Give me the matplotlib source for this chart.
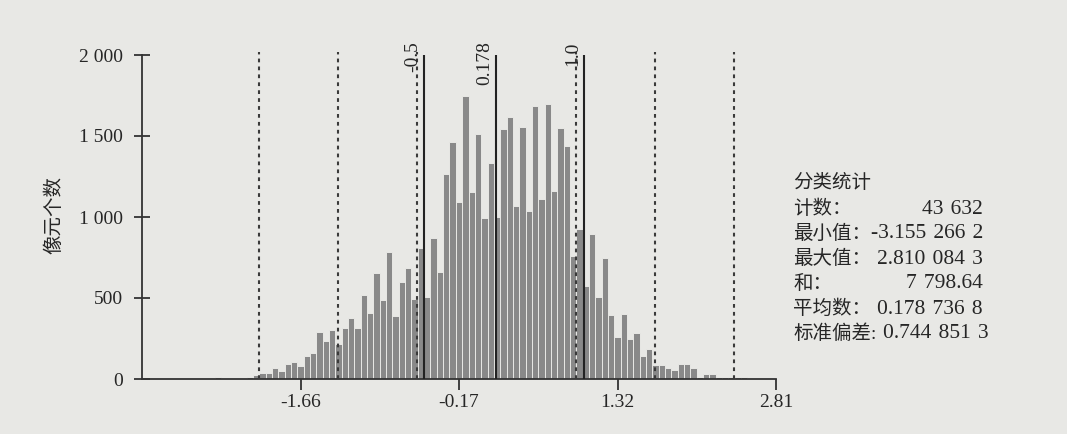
import matplotlib
matplotlib.use('Agg')
import matplotlib.pyplot as plt
import numpy as np

# histogram counts, 100 bins between min and max
bin_counts = [0, 0, 0, 0, 0, 0, 0, 0, 0, 8,
              2, 10, 3, 8, 3, 4, 15, 25, 38, 40,
              70, 50, 95, 105, 82, 142, 160, 289, 237, 300,
              215, 315, 378, 315, 517, 410, 656, 486, 783, 390,
              601, 687, 492, 810, 507, 872, 660, 1268, 1460, 1095,
              1748, 1157, 1514, 991, 1335, 1003, 1545, 1618, 1065, 1557,
              1034, 1686, 1114, 1698, 1163, 1551, 1440, 757, 929, 572,
              892, 505, 745, 394, 257, 404, 246, 287, 145, 185,
              85, 85, 70, 55, 95, 92, 70, 12, 30, 28,
              10, 12, 12, 15, 12, 3, 2, 0, 0, 0]

# classification statistics
stat_count = 43632
stat_min = -3.1552662
stat_max = 2.8100843
stat_sum = 7798.64
stat_mean = 0.1787368
stat_std = 0.7448513

break_values = [-0.5, 0.178, 1.0]
break_labels = ['-0.5', '0.178', '1.0']
std_multiples = [-3, -2, -1, 1, 2, 3]

sp = '\u2004'  # digit-group space, a bit wider than a normal one
stat_names = ['计数：', '最小值：', '最大值：', '和：', '平均数：']
stat_texts = ['43' + sp + '632', '-3.155' + sp + '266' + sp + '2', '2.810' + sp + '084' + sp + '3',
              '7' + sp + '798.64', '0.178' + sp + '736' + sp + '8']
std_name = '标准偏差:'
std_text = '0.744' + sp + '851' + sp + '3'

yticks = [0, 500, 1000, 1500, 2000]
ytick_labels = ['0', '500', '1 000', '1 500', '2 000']

plt.rcParams['font.family'] = ['Liberation Serif', 'Noto Sans CJK SC']
bg = '#e8e8e5'
bar_col = '#898989'
ink = '#262626'

fig = plt.figure(figsize=(10.67, 4.34), dpi=100, facecolor=bg)
ax = fig.add_axes([142 / 1067, 1 - 379 / 434, (776 - 142) / 1067, (379 - 55) / 434])
ax.set_facecolor(bg)

# bins of width range/100, shifted half a bin so -0.5 falls on an edge
nb = len(bin_counts)
w = (stat_max - stat_min) / nb
left = stat_min + w / 2 + w * np.arange(nb)
ax.bar(left, bin_counts, width=w, align='edge', color=bar_col,
       edgecolor=bg, linewidth=0.7, zorder=2)

# standard deviation lines (dashed) and manual breaks (solid)
for k in std_multiples:
    ax.vlines(stat_mean + k * stat_std, 0, 2020, colors='#3a3a3a',
              linestyles=(0, (1.8, 2.0)), linewidth=1.5, clip_on=False, zorder=3)
for v, lab in zip(break_values, break_labels):
    ax.vlines(v, 0, 2000, colors='#222222', linewidth=1.5, clip_on=False, zorder=4)
    ax.text(v - 0.025, 2085, lab, rotation=90, ha='right', va='top',
            fontsize=14, color=ink, clip_on=False)

ax.set_xlim(stat_min, stat_max)
ax.set_ylim(0, 2000)
for s in ['top', 'right']:
    ax.spines[s].set_visible(False)
for s in ['left', 'bottom']:
    ax.spines[s].set_color('#333333')
    ax.spines[s].set_linewidth(1.3)

xt = [stat_min + k * (stat_max - stat_min) / 4 for k in range(1, 5)]
ax.set_xticks(xt)
ax.set_xticklabels(['%.2f' % t for t in xt])
ax.set_yticks(yticks)
ax.set_yticklabels(ytick_labels)
ax.tick_params(axis='x', direction='out', length=8, width=1.3, color='#333333',
               labelsize=14, labelcolor=ink, pad=3)
ax.tick_params(axis='y', direction='inout', length=12, width=1.3, color='#333333',
               labelsize=14, labelcolor=ink, pad=8)

fig.text(54 / 1067, 1 - 215 / 434, '像元个数', rotation=90, ha='center', va='center',
         fontsize=14, color=ink)

# statistics block
x0 = 793 / 1067
x1 = 983 / 1067
fig.text(x0, 1 - 183 / 434, '分类统计', ha='left', va='center', fontsize=14, color=ink)
for i, (n, t) in enumerate(zip(stat_names, stat_texts)):
    yy = 1 - (209 + 25 * i) / 434
    fig.text(x0, yy, n, ha='left', va='center', fontsize=14, color=ink)
    fig.text(x1, yy, t, ha='right', va='center', fontsize=15.5, color=ink)
yy = 1 - 334 / 434
fig.text(x0, yy, std_name, ha='left', va='center', fontsize=14, color=ink)
fig.text(989 / 1067, yy, std_text, ha='right', va='center', fontsize=15.5, color=ink)

fig.savefig('out.png', dpi=100, facecolor=bg)
